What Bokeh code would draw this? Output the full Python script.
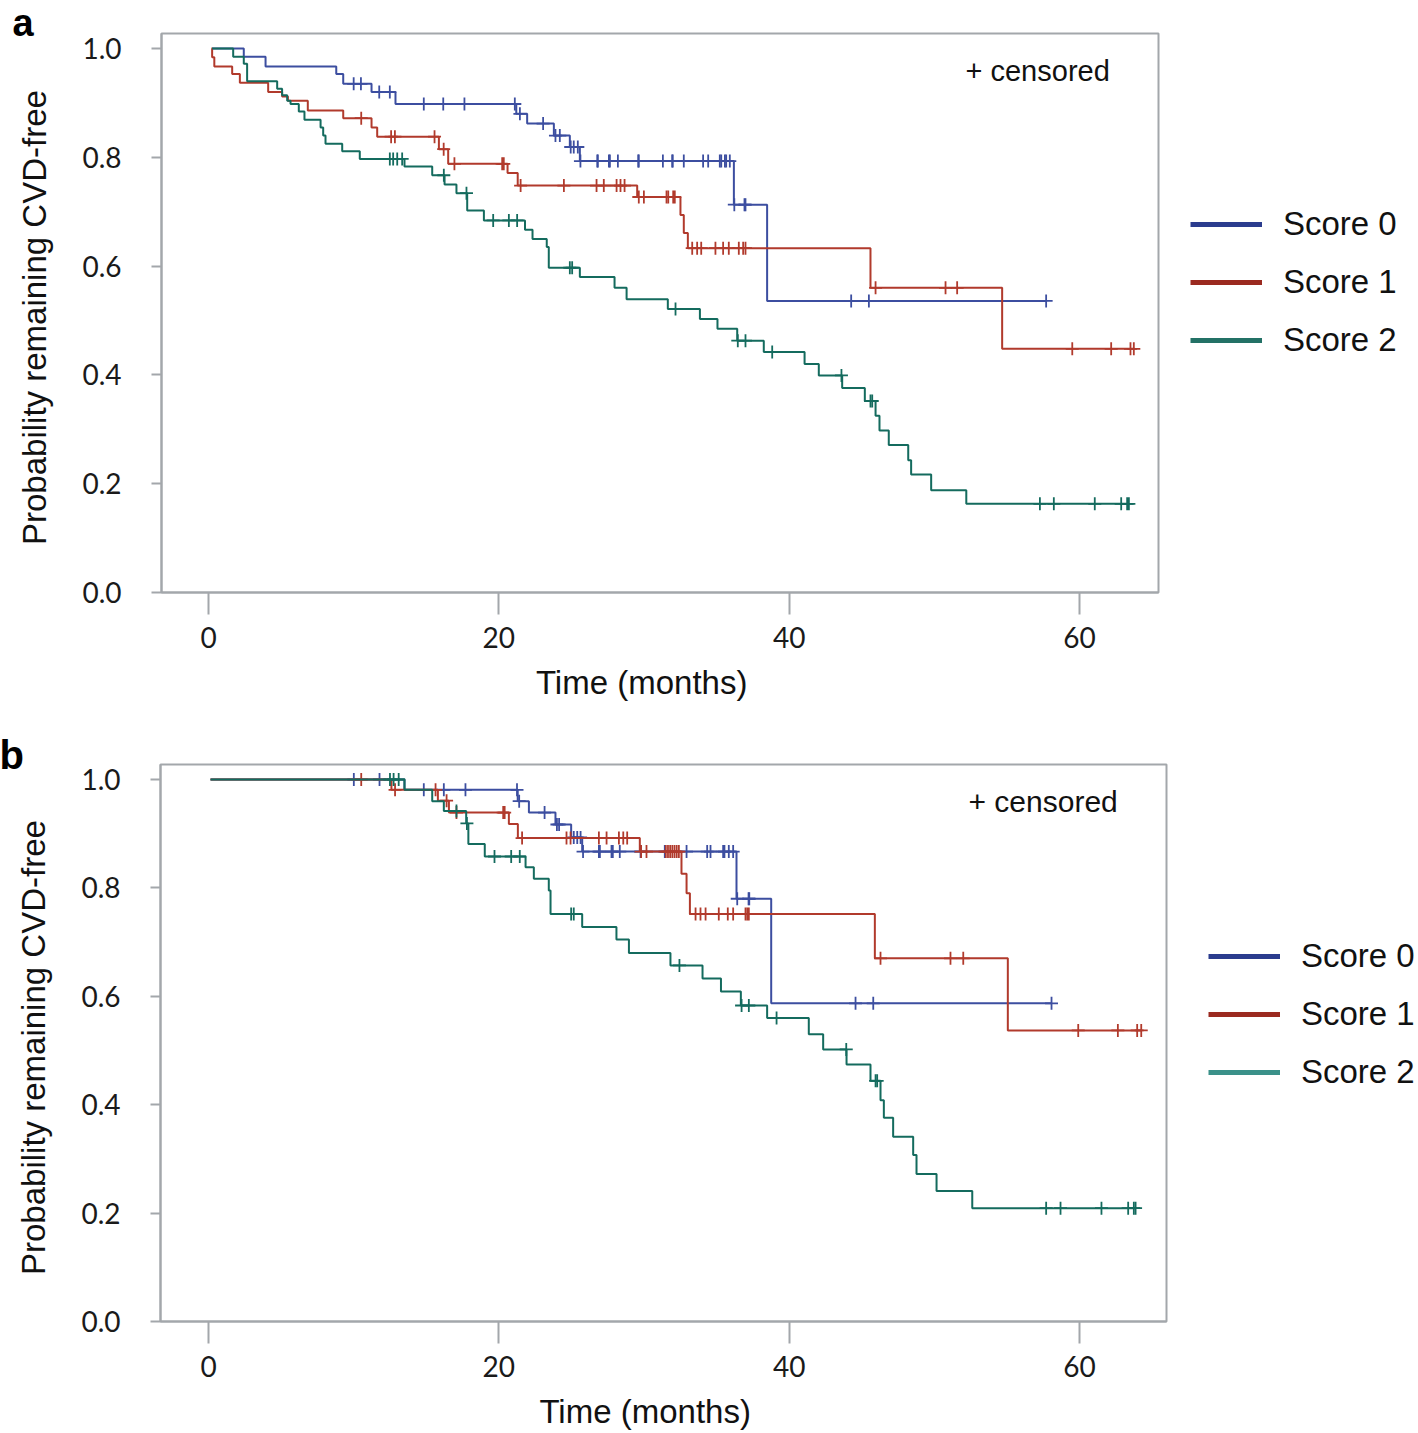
import numpy as np
from bokeh.plotting import figure
from bokeh.models import Range1d, FixedTicker, PrintfTickFormatter, Legend, LegendItem, Label
from bokeh.layouts import column, row
from bokeh.embed import file_html
from bokeh.resources import INLINE

SERIES = ["Score 0", "Score 1", "Score 2"]
X_TICKS = [0, 20, 40, 60]
Y_TICKS = [0.0, 0.2, 0.4, 0.6, 0.8, 1.0]
NBSP = "\u00a0"

# ---------------- panel a ----------------
A_S0_time = [0.25, 2.43, 3.93, 8.80, 9.28, 11.23, 12.88, 21.20, 21.95, 23.79, 24.89, 25.58, 36.19, 38.48, 57.70]
A_S0_surv = [1.000, 0.985, 0.967, 0.953, 0.935, 0.920, 0.898, 0.880, 0.862, 0.840, 0.819, 0.793, 0.713, 0.536, 0.536]
A_S0_cens = [10.0, 10.5, 11.76, 12.49, 14.83, 16.17, 17.63, 21.1, 21.45, 23.05, 23.9, 24.2, 24.95, 25.16, 25.44,
             25.62, 26.78, 26.82, 27.58, 27.65, 28.2, 29.6, 29.64, 31.3, 31.94, 31.98, 32.74, 34.07, 34.42, 35.22,
             35.32, 35.57, 35.66, 35.91, 36.22, 36.92, 36.99, 44.27, 45.49, 57.7]

A_S1_time = [0.20, 0.25, 0.40, 1.63, 2.16, 4.11, 5.07, 5.47, 6.84, 9.28, 11.23, 11.62, 15.87, 16.51, 20.60, 21.30,
             29.53, 32.51, 32.74, 33.02, 45.60, 54.67, 63.80]
A_S1_surv = [1.000, 0.984, 0.967, 0.953, 0.937, 0.920, 0.912, 0.904, 0.886, 0.872, 0.855, 0.838, 0.815, 0.788, 0.771,
             0.748, 0.727, 0.694, 0.661, 0.633, 0.560, 0.448, 0.448]
A_S1_cens = [10.52, 12.58, 12.84, 15.57, 16.2, 16.94, 20.23, 20.34, 21.5, 24.48, 26.73, 27.23, 28.11, 28.38, 28.66,
             29.64, 29.99, 31.55, 31.67, 32.01, 32.12, 33.32, 33.66, 33.94, 34.92, 35.45, 35.84, 36.53, 36.83, 36.99,
             45.95, 50.77, 51.57, 59.5, 62.18, 63.51, 63.74]

A_S2_time = [0.25, 1.70, 2.43, 2.66, 4.73, 5.07, 5.42, 5.65, 6.22, 6.61, 7.72, 7.90, 8.06, 9.21, 10.42, 13.50, 15.41,
             16.26, 17.08, 17.82, 18.97, 21.80, 22.32, 23.30, 23.44, 25.58, 27.97, 28.80, 31.64, 33.85, 35.06, 36.42,
             38.25, 41.06, 42.04, 43.65, 45.21, 45.95, 46.22, 46.86, 48.20, 48.40, 49.78, 52.20, 63.40]
A_S2_surv = [1.000, 0.985, 0.972, 0.940, 0.926, 0.914, 0.904, 0.898, 0.884, 0.869, 0.855, 0.840, 0.825, 0.811, 0.797,
             0.783, 0.767, 0.750, 0.734, 0.702, 0.684, 0.667, 0.650, 0.635, 0.597, 0.580, 0.560, 0.539, 0.521, 0.503,
             0.485, 0.463, 0.442, 0.420, 0.399, 0.376, 0.352, 0.325, 0.298, 0.271, 0.243, 0.217, 0.188, 0.163, 0.163]
A_S2_cens = [12.49, 12.72, 13.0, 13.34, 16.21, 17.77, 19.61, 20.69, 21.26, 24.89, 25.05, 32.17, 36.46, 36.99, 38.83,
             43.6, 45.6, 45.72, 57.27, 58.23, 61.05, 62.87, 63.28, 63.4]

# ---------------- panel b ----------------
B_S0_time = [0.14, 13.50, 21.30, 22.07, 23.90, 24.98, 25.74, 36.37, 38.76, 58.10]
B_S0_surv = [1.000, 0.981, 0.960, 0.939, 0.917, 0.893, 0.867, 0.780, 0.587, 0.587]
B_S0_cens = [10.01, 11.78, 14.83, 16.21, 17.7, 21.25, 21.4, 23.15, 24.0, 24.15, 25.16, 25.4, 25.63, 25.8, 26.89,
             26.96, 27.76, 27.85, 28.33, 29.76, 31.43, 32.93, 34.35, 34.58, 35.45, 35.54, 35.84, 36.14, 36.42, 37.2,
             37.25, 44.57, 45.79, 58.07]

B_S1_time = [0.14, 12.60, 15.80, 16.56, 20.69, 21.31, 29.71, 32.58, 32.93, 33.16, 45.90, 55.06, 64.25]
B_S1_surv = [1.000, 0.981, 0.961, 0.939, 0.918, 0.892, 0.867, 0.826, 0.790, 0.752, 0.670, 0.537, 0.537]
B_S1_cens = [10.52, 12.85, 15.64, 16.4, 17.08, 20.3, 20.4, 21.6, 24.66, 24.94, 26.89, 27.42, 28.27, 28.57, 28.84,
             29.8, 30.17, 31.5, 31.65, 31.8, 31.95, 32.1, 32.25, 32.4, 33.55, 33.89, 34.24, 35.15, 35.77, 36.14,
             36.99, 37.11, 37.22, 46.29, 51.11, 51.99, 59.91, 62.64, 63.97, 64.25]

B_S2_time = [0.14, 13.50, 15.41, 16.21, 17.75, 17.90, 19.03, 21.84, 22.41, 23.44, 23.56, 25.74, 28.10, 28.96, 31.82,
             34.03, 35.30, 36.67, 38.48, 41.35, 42.34, 43.95, 45.60, 46.29, 46.52, 47.16, 48.54, 48.77, 50.15, 52.61,
             63.86]
B_S2_surv = [1.000, 0.981, 0.960, 0.942, 0.919, 0.881, 0.858, 0.838, 0.817, 0.795, 0.752, 0.728, 0.705, 0.680, 0.657,
             0.633, 0.609, 0.583, 0.560, 0.530, 0.502, 0.474, 0.444, 0.408, 0.376, 0.341, 0.307, 0.272, 0.241, 0.209,
             0.209]
B_S2_cens = [12.5, 12.75, 13.1, 17.08, 17.8, 19.7, 20.85, 21.44, 24.98, 25.16, 32.44, 36.72, 37.22, 39.13, 43.93,
             45.95, 46.06, 57.7, 58.69, 61.51, 63.35, 63.74, 63.86]

LINE_COLORS = ["#3c4ea0", "#b13a2c", "#146b5e"]
LEGEND_COLORS_A = ["#2b3c8e", "#9b2a20", "#237166"]
LEGEND_COLORS_B = ["#2b3c8e", "#9b2a20", "#3b9189"]
GRAY = "#a3a7ab"


def level_at(times, surv, t):
    idx = int(np.searchsorted(np.asarray(times), t, side="right")) - 1
    return surv[max(idx, 0)]


def panel(curves, letter, letter_size, width, height, mb_left, mb_top, mb_bottom,
          xr, yr, letter_offset, letter_standoff, cens_pos, cens_size):
    p = figure(width=width, height=height, output_backend="svg", toolbar_location=None,
               x_range=Range1d(*xr), y_range=Range1d(*yr),
               min_border_left=mb_left, min_border_right=2,
               min_border_top=mb_top, min_border_bottom=mb_bottom)
    p.grid.visible = False
    p.outline_line_color = GRAY
    p.outline_line_width = 2
    p.background_fill_color = "white"
    p.border_fill_color = "white"

    p.title.text = letter
    p.title.align = "left"
    p.title.offset = letter_offset
    p.title.standoff = letter_standoff
    p.title.vertical_align = "bottom"
    p.title.text_font = "Liberation Sans"
    p.title.text_font_size = letter_size
    p.title.text_font_style = "bold"
    p.title.text_color = "#000000"

    for ax in (p.xaxis[0], p.yaxis[0]):
        ax.axis_line_color = GRAY
        ax.axis_line_width = 2
        ax.major_tick_line_color = GRAY
        ax.major_tick_line_width = 2
        ax.major_tick_in = 0
        ax.minor_tick_line_color = None
        ax.major_label_text_font = "Lato"
        ax.major_label_text_font_size = "28px"
        ax.major_label_text_color = "#1a1a1a"
        ax.axis_label_text_font = "Liberation Sans"
        ax.axis_label_text_font_size = "33px"
        ax.axis_label_text_font_style = "normal"
        ax.axis_label_text_color = "#111111"

    p.xaxis.ticker = FixedTicker(ticks=X_TICKS)
    p.xaxis.major_tick_out = 22
    p.xaxis.major_label_standoff = 12
    p.xaxis.axis_label = "Time (months)" + NBSP * 4
    p.xaxis.axis_label_standoff = 13

    p.yaxis.ticker = FixedTicker(ticks=Y_TICKS)
    p.yaxis.formatter = PrintfTickFormatter(format="%.1f")
    p.yaxis.major_tick_out = 10
    p.yaxis.major_label_standoff = 30
    p.yaxis.axis_label = "Probability remaining CVD-free" + NBSP
    p.yaxis.axis_label_standoff = 26

    for (times, surv, cens), col in zip(curves, LINE_COLORS):
        p.step(x=times, y=surv, mode="after", line_color=col, line_width=2)
        cy = [level_at(times, surv, t) for t in cens]
        p.scatter(x=cens, y=cy, marker="cross", size=13, line_color=col, line_width=1.8)

    p.add_layout(Label(x=cens_pos[0], y=cens_pos[1], x_units="screen", y_units="screen", text="+ censored",
                       text_font="Liberation Sans", text_font_size=cens_size,
                       text_baseline="middle", text_align="left", text_color="#111111"))
    return p


def legend_fig(width, height, mb_top, mb_bottom, leg_colors, leg_pos):
    f = figure(width=width, height=height, output_backend="svg", toolbar_location=None,
               x_range=Range1d(0, 1), y_range=Range1d(0, 1), min_border=0,
               min_border_top=mb_top, min_border_bottom=mb_bottom,
               x_axis_type=None, y_axis_type=None)
    f.grid.visible = False
    f.outline_line_color = None
    f.background_fill_color = "white"
    f.border_fill_color = "white"
    rs = [f.line(x=[np.nan], y=[np.nan], line_color=c, line_width=5) for c in leg_colors]
    legend = Legend(items=[LegendItem(label=s, renderers=[r]) for s, r in zip(SERIES, rs)],
                    location=leg_pos, glyph_width=72, glyph_height=36, label_height=36,
                    label_standoff=21, spacing=20, padding=0, margin=0,
                    border_line_alpha=0, background_fill_alpha=0,
                    label_text_font="Liberation Sans", label_text_font_size="33px",
                    label_text_color="#111111")
    f.add_layout(legend)
    return f


pa = panel([(A_S0_time, A_S0_surv, A_S0_cens), (A_S1_time, A_S1_surv, A_S1_cens), (A_S2_time, A_S2_surv, A_S2_cens)],
           "a", "38px", 1160, 712, 161, 33, 120,
           (-3.238, 65.44), (0.0, 1.0276), -149, -20, (804, 522), "29px")
la = legend_fig(256, 712, 33, 120, LEGEND_COLORS_A, (30, 233))

pb = panel([(B_S0_time, B_S0_surv, B_S0_cens), (B_S1_time, B_S1_surv, B_S1_cens), (B_S2_time, B_S2_surv, B_S2_cens)],
           "b", "40px", 1168, 720, 160, 52, 111,
           (-3.307, 65.99), (0.0, 1.0277), -161, -25, (808, 520), "30px")
lb = legend_fig(248, 720, 52, 111, LEGEND_COLORS_B, (40, 230))

layout = column(row(pa, la), row(pb, lb))
open("out.html", "w").write(file_html(layout, INLINE))
